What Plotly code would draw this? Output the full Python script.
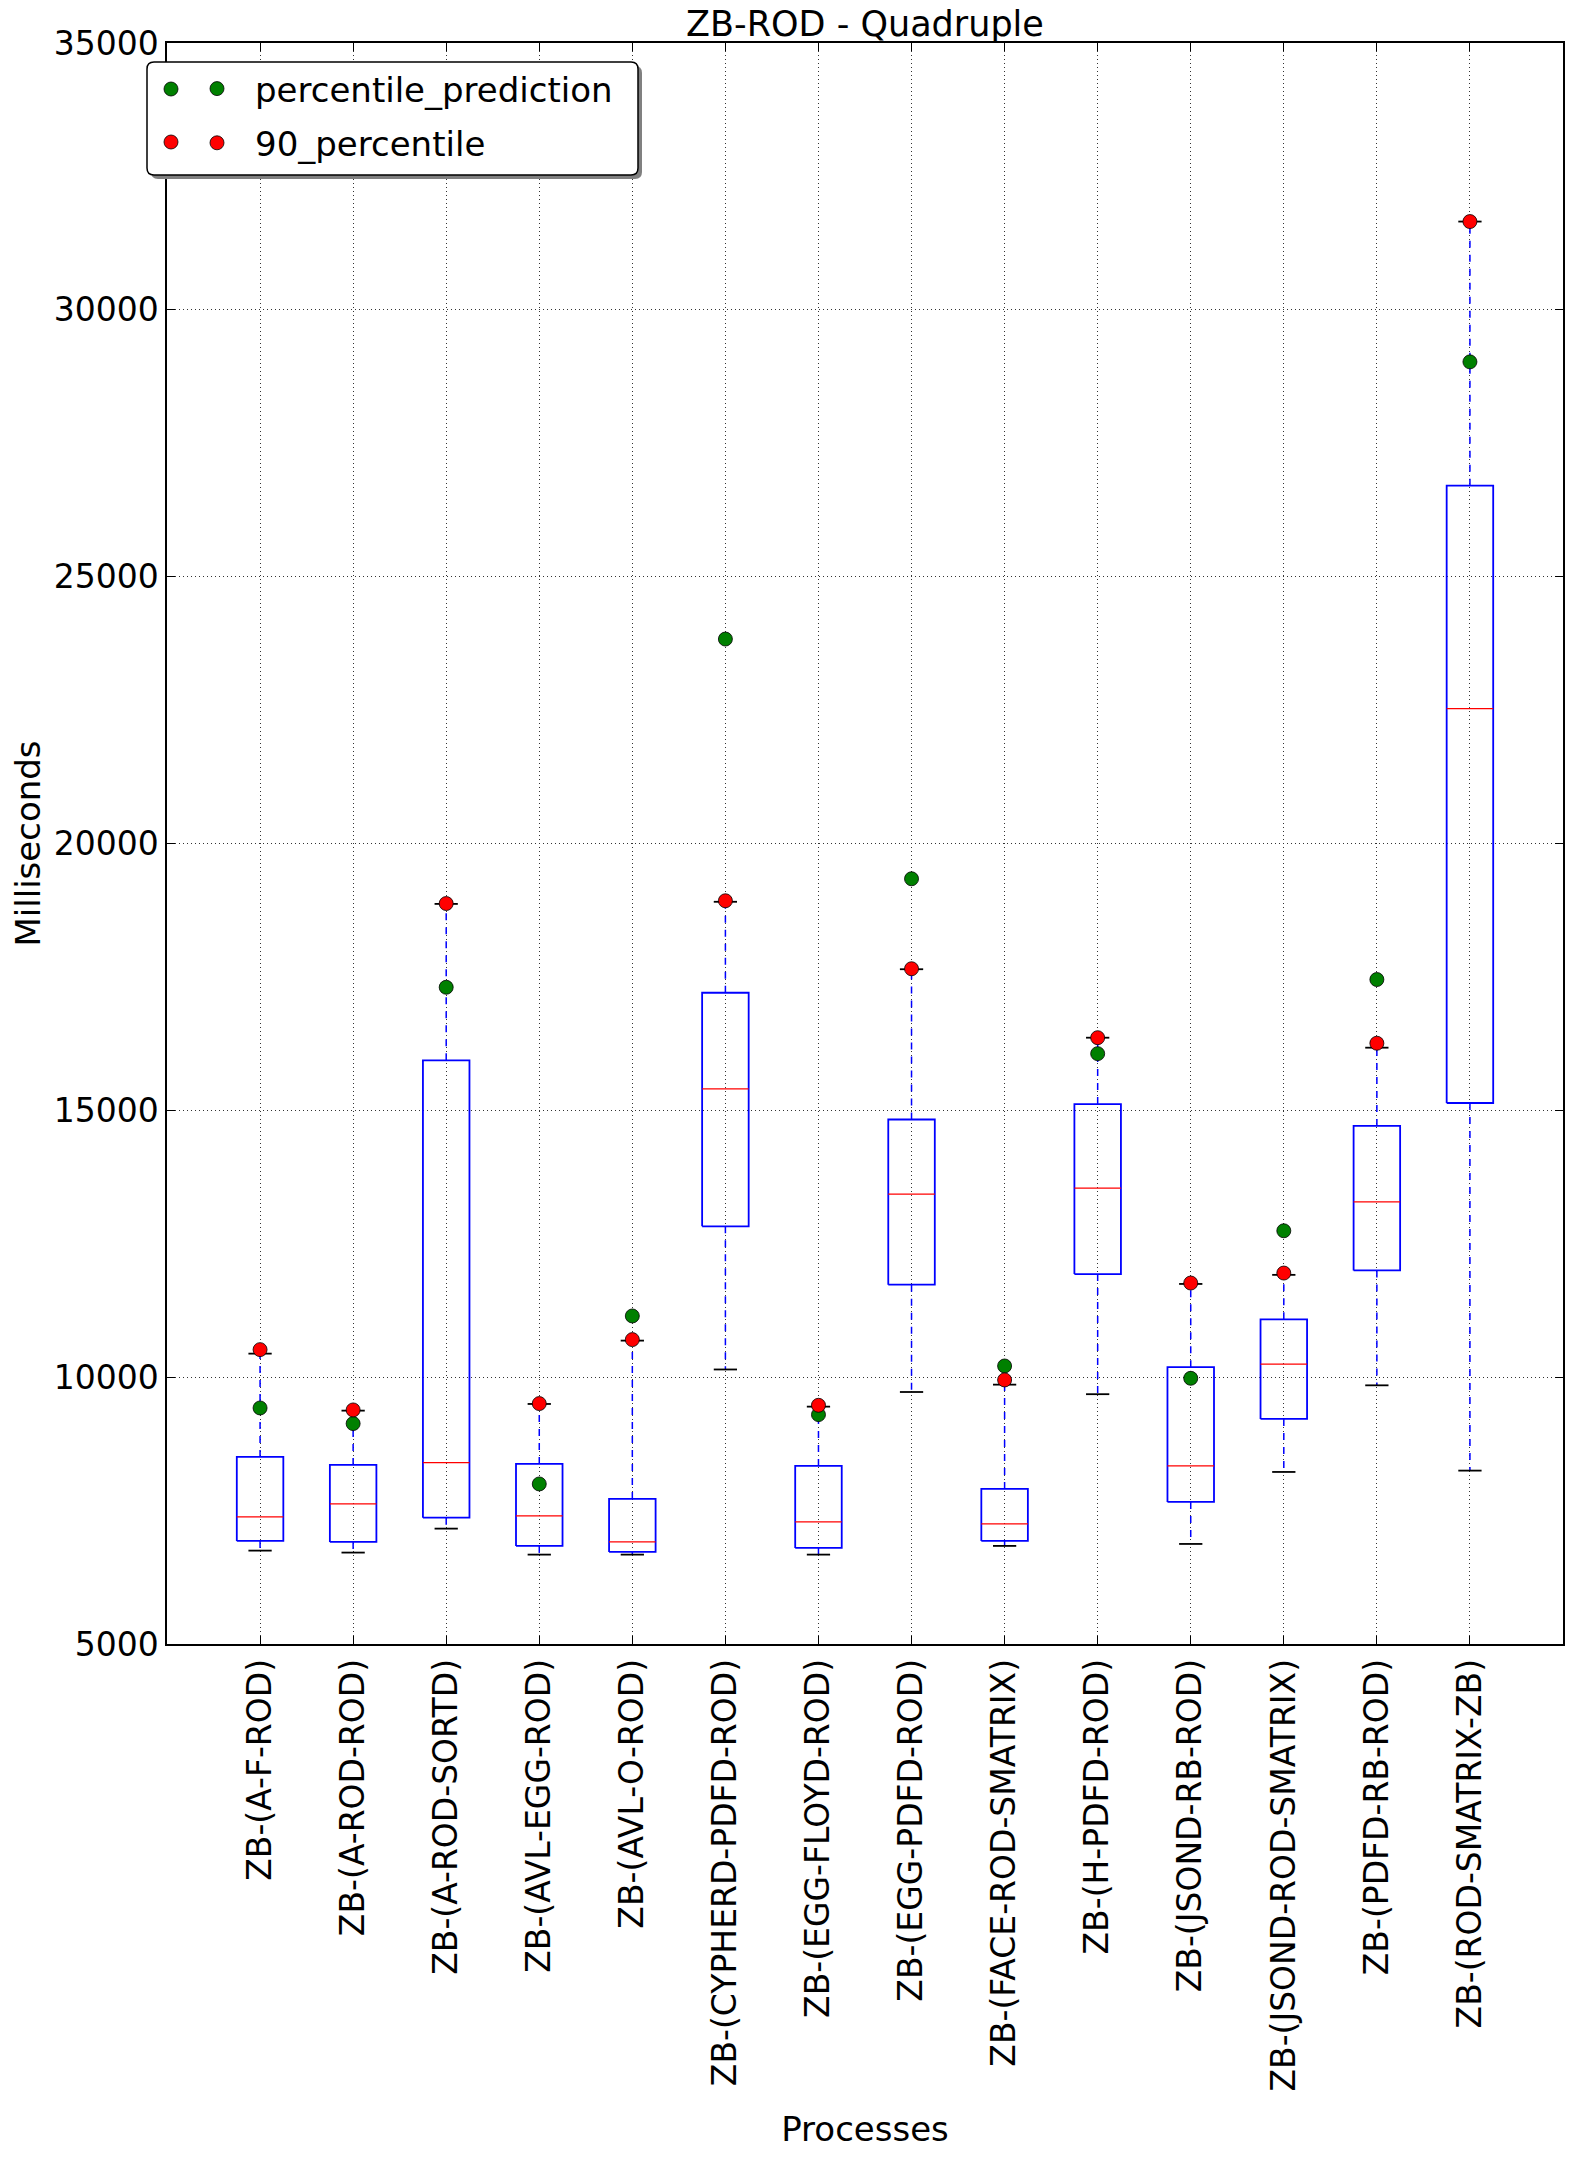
import plotly.graph_objects as go

labels = ["ZB-(A-F-ROD)", "ZB-(A-ROD-ROD)", "ZB-(A-ROD-SORTD)", "ZB-(AVL-EGG-ROD)",
          "ZB-(AVL-O-ROD)", "ZB-(CYPHERD-PDFD-ROD)", "ZB-(EGG-FLOYD-ROD)",
          "ZB-(EGG-PDFD-ROD)", "ZB-(FACE-ROD-SMATRIX)", "ZB-(H-PDFD-ROD)",
          "ZB-(JSOND-RB-ROD)", "ZB-(JSOND-ROD-SMATRIX)", "ZB-(PDFD-RB-ROD)",
          "ZB-(ROD-SMATRIX-ZB)"]

whisker_lo = [6750, 6713, 7162, 6675, 6675, 10144, 6675, 9722, 6838, 9681, 6875, 8224, 9847, 8249]
q1 = [6931, 6912, 7368, 6838, 6725, 12826, 6800, 11734, 6931, 11931, 7662, 9217, 12000, 15137]
median = [7381, 7625, 8399, 7400, 6912, 15402, 7287, 13429, 7250, 13542, 8337, 10243, 13285, 22529]
q3 = [8505, 8355, 15938, 8374, 7718, 17203, 8337, 14828, 7906, 15118, 10187, 11083, 14708, 26705]
whisker_hi = [10441, 9373, 18868, 9498, 10685, 18908, 9448, 17644, 9860, 16361, 11747, 11917, 16174, 31654]
p90 = [10516, 9386, 18875, 9505, 10704, 18927, 9473, 17653, 9948, 16361, 11764, 11951, 16257, 31654]
pred = [9423, 9130, 17306, 7999, 11147, 23831, 9298, 19339, 10210, 16062, 9979, 12743, 17451, 29025]

legend_names = ["percentile_prediction", "90_percentile"]
legend_colors = ["#008000", "#ff0000"]

positions = list(range(1, len(labels) + 1))
HALF_BOX = 0.25
HALF_CAP = 0.125

bx, by = [], []
mx, my = [], []
wx, wy = [], []
cx, cy = [], []
for p, lo, a, m, b, hi in zip(positions, whisker_lo, q1, median, q3, whisker_hi):
    bx += [p - HALF_BOX, p + HALF_BOX, p + HALF_BOX, p - HALF_BOX, p - HALF_BOX, None]
    by += [a, a, b, b, a, None]
    mx += [p - HALF_BOX, p + HALF_BOX, None]
    my += [m, m, None]
    wx += [p, p, None, p, p, None]
    wy += [b, hi, None, a, lo, None]
    cx += [p - HALF_CAP, p + HALF_CAP, None, p - HALF_CAP, p + HALF_CAP, None]
    cy += [hi, hi, None, lo, lo, None]

FONT = "DejaVu Sans"
W, H = 1571, 2158
ML, MR, MT, MB = 167, 8, 43, 514
PW, PH = W - ML - MR, H - MT - MB


def px_x(x):
    return (x - ML) / PW


def px_y(y):
    return (H - MB - y) / PH


fig = go.Figure()
fig.add_trace(go.Scatter(x=wx, y=wy, mode="lines", line=dict(color="#0000ff", width=1.5, dash="7px,7px"),
                         showlegend=False, hoverinfo="skip"))
fig.add_trace(go.Scatter(x=bx, y=by, mode="lines", line=dict(color="#0000ff", width=1.8),
                         showlegend=False, hoverinfo="skip"))
fig.add_trace(go.Scatter(x=mx, y=my, mode="lines", line=dict(color="#ff0000", width=1.3),
                         showlegend=False, hoverinfo="skip"))
fig.add_trace(go.Scatter(x=cx, y=cy, mode="lines", line=dict(color="black", width=1.8),
                         showlegend=False, hoverinfo="skip"))
for name, color, vals in zip(legend_names, legend_colors, [pred, p90]):
    fig.add_trace(go.Scatter(x=positions, y=vals, mode="markers", name=name, legendgroup=name,
                             marker=dict(color=color, size=14, line=dict(color="black", width=0.8))))

axis_common = dict(
    showline=True, linecolor="black", linewidth=1.5, mirror="ticks",
    ticks="inside", ticklen=8, tickcolor="black", tickwidth=1.2,
    showgrid=True, gridcolor="#333333", gridwidth=1, griddash="1px,3px",
    zeroline=False, automargin=False, tickfont=dict(family=FONT, size=33, color="black"),
)

fig.update_xaxes(range=[0, len(labels) + 1], tickmode="array", tickvals=positions,
                 ticktext=labels, tickangle=-90,
                 title=dict(text="Processes", font=dict(family=FONT, size=34, color="black"), standoff=27),
                 **axis_common)
fig.update_yaxes(range=[5000, 35000], tickmode="linear", tick0=5000, dtick=5000, tickformat="d",
                 title=dict(text="Milliseconds", font=dict(family=FONT, size=34, color="black"), standoff=3),
                 **axis_common)

# legend frame (rounded box with shadow) and matplotlib-style second legend point
L, R, T, B = 147, 638, 62, 175
rad = 7


def rounded_path(l, r, t, b, rr):
    x0, x1 = px_x(l), px_x(r)
    y0, y1 = px_y(b), px_y(t)
    dx, dy = rr / PW, rr / PH
    return (f"M {x0+dx},{y1} L {x1-dx},{y1} Q {x1},{y1} {x1},{y1-dy} "
            f"L {x1},{y0+dy} Q {x1},{y0} {x1-dx},{y0} L {x0+dx},{y0} "
            f"Q {x0},{y0} {x0},{y0+dy} L {x0},{y1-dy} Q {x0},{y1} {x0+dx},{y1} Z")


shapes = [
    dict(type="path", xref="paper", yref="paper", path=rounded_path(L + 4, R + 4, T + 4, B + 4, rad),
         fillcolor="#808080", line=dict(width=0), layer="above"),
    dict(type="path", xref="paper", yref="paper", path=rounded_path(L, R, T, B, rad),
         fillcolor="white", line=dict(color="black", width=1.5), layer="above"),
]
row_y = [89, 142]
for ry, color in zip(row_y, legend_colors):
    shapes.append(dict(type="circle", xref="paper", yref="paper", xsizemode="pixel", ysizemode="pixel",
                       xanchor=px_x(171), yanchor=px_y(ry), x0=-7, x1=7, y0=-7, y1=7,
                       fillcolor=color, line=dict(color="black", width=0.8), layer="above"))

fig.update_layout(
    width=W, height=H,
    margin=dict(l=ML, r=MR, t=MT, b=MB, autoexpand=False),
    paper_bgcolor="white", plot_bgcolor="white",
    font=dict(family=FONT, color="black"),
    title=dict(text="ZB-ROD - Quadruple", x=0.5, xref="paper", xanchor="center",
               y=1 - 24 / H, yanchor="middle", font=dict(family=FONT, size=35, color="black")),
    legend=dict(x=px_x(179), y=px_y(60), xanchor="left", yanchor="top",
                bgcolor="rgba(0,0,0,0)", borderwidth=0,
                font=dict(family=FONT, size=34, color="black"),
                itemwidth=66, tracegroupgap=7),
    showlegend=True,
    shapes=shapes,
)

fig.write_html("out.html", config={"displayModeBar": False},
               post_script="document.body.style.margin='0';document.body.style.overflow='hidden';")
